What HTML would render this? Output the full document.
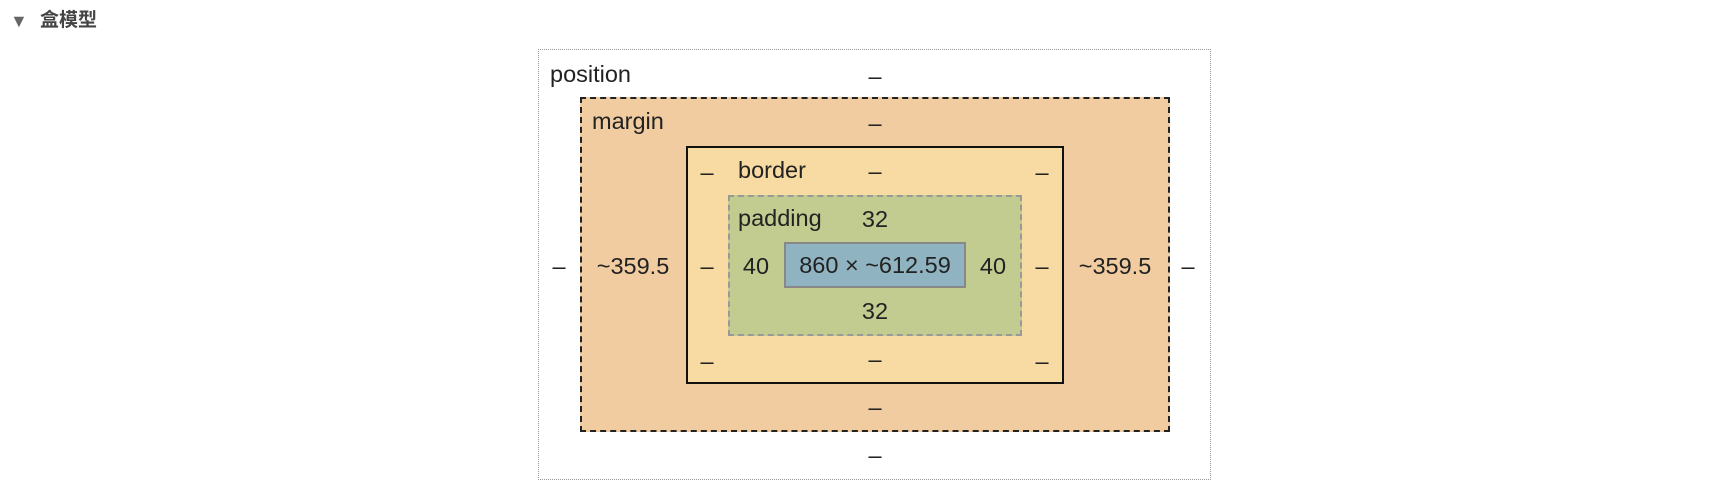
<!DOCTYPE html>
<html><head><meta charset="utf-8"><style>
body{margin:0;width:1722px;height:496px;background:#fff;position:relative;overflow:hidden;font-family:"Liberation Sans","Noto Sans CJK SC",sans-serif;color:#222}
.b{position:absolute;box-sizing:border-box}
.t{position:absolute;font-size:23.5px;line-height:26px;white-space:nowrap;transform:translateY(-50%)}
.c{transform:translate(-50%,-50%)}
</style></head><body>
<div class="t" style="left:10px;top:21px;font-size:18px;color:#666">▼</div>
<div class="t" style="left:40px;top:21px;font-size:19px;font-weight:bold;color:#444">盒模型</div>
<div class="b" style="left:538px;top:49px;width:673px;height:431px;border:1px dotted #999"></div>
<div class="b" style="left:580px;top:97px;width:590px;height:335px;border:2px dashed #222;background:#f0cca0"></div>
<div class="b" style="left:686px;top:146px;width:378px;height:238px;border:2px solid #111;background:#f7dba3"></div>
<div class="b" style="left:728px;top:195px;width:294px;height:141px;border:2px dashed #999;background:#c3cc90"></div>
<div class="b" style="left:784px;top:242px;width:182px;height:46px;border:2px solid #888;background:#8fb3c0"></div>
<div class="t" style="left:550px;top:74px">position</div>
<div class="t c" style="left:875px;top:76px">–</div>
<div class="t c" style="left:875px;top:455px">–</div>
<div class="t c" style="left:559px;top:266px">–</div>
<div class="t c" style="left:1188px;top:266px">–</div>
<div class="t" style="left:592px;top:121px">margin</div>
<div class="t c" style="left:875px;top:123px">–</div>
<div class="t c" style="left:875px;top:407px">–</div>
<div class="t c" style="left:633px;top:266px">~359.5</div>
<div class="t c" style="left:1115px;top:266px">~359.5</div>
<div class="t" style="left:738px;top:170px">border</div>
<div class="t c" style="left:875px;top:171px">–</div>
<div class="t c" style="left:707px;top:172px">–</div>
<div class="t c" style="left:1042px;top:172px">–</div>
<div class="t c" style="left:707px;top:266px">–</div>
<div class="t c" style="left:1042px;top:266px">–</div>
<div class="t c" style="left:707px;top:361px">–</div>
<div class="t c" style="left:875px;top:359px">–</div>
<div class="t c" style="left:1042px;top:361px">–</div>
<div class="t" style="left:738px;top:218px">padding</div>
<div class="t c" style="left:875px;top:219px">32</div>
<div class="t c" style="left:875px;top:311px">32</div>
<div class="t c" style="left:756px;top:266px">40</div>
<div class="t c" style="left:993px;top:266px">40</div>
<div class="t c" style="left:875px;top:265px">860 × ~612.59</div>
</body></html>
